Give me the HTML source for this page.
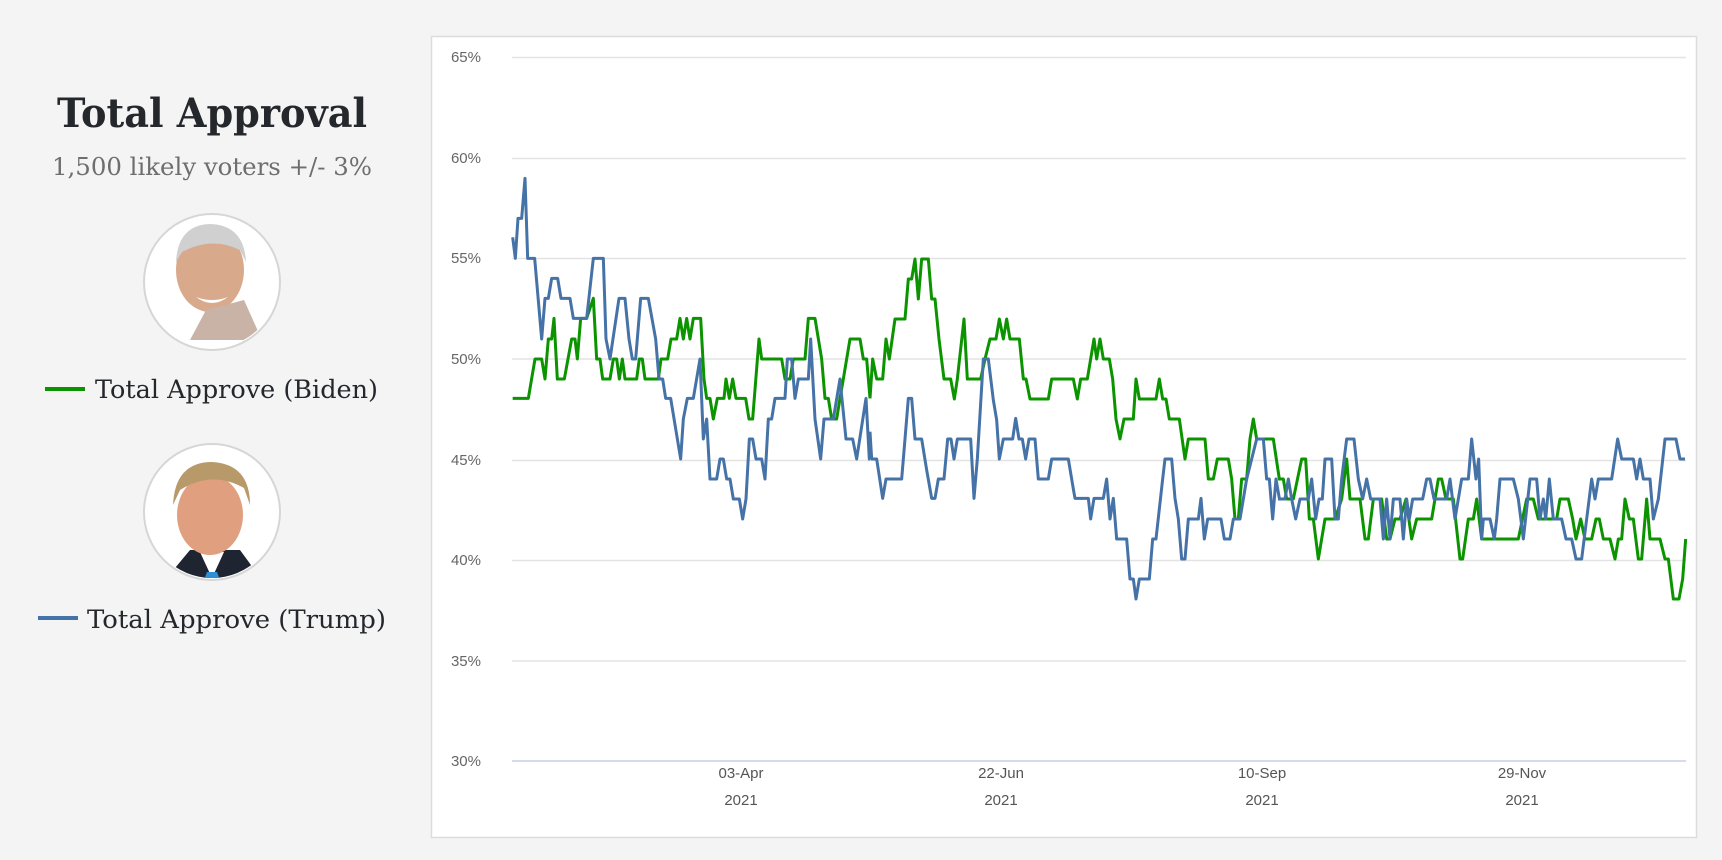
<!DOCTYPE html>
<html><head><meta charset="utf-8"><style>
html,body{margin:0;padding:0;background:#f4f4f4;}
svg{display:block;}
</style></head><body>
<svg width="1722" height="860" viewBox="0 0 1722 860" xmlns="http://www.w3.org/2000/svg">
<rect width="1722" height="860" fill="#f4f4f4"/>
<!-- left -->
<text x="212" y="127" text-anchor="middle" font-family="DejaVu Serif, Liberation Serif, serif" font-weight="bold" font-size="40" fill="#24272b" textLength="310" lengthAdjust="spacingAndGlyphs">Total Approval</text>
<text x="212" y="175" text-anchor="middle" font-family="DejaVu Serif, Liberation Serif, serif" font-size="24" fill="#6e6e6e" textLength="320" lengthAdjust="spacingAndGlyphs">1,500 likely voters +/- 3%</text>
<!-- Biden -->
<circle cx="212" cy="282" r="68" fill="#fff" stroke="#d6d6d6" stroke-width="2"/>
<clipPath id="c1"><circle cx="212" cy="282" r="66"/></clipPath>
<g clip-path="url(#c1)">
<ellipse cx="210" cy="270" rx="34" ry="42" fill="#d9a98c"/>
<path d="M176 262 Q178 225 210 224 Q244 225 246 262 L240 250 Q212 236 182 252Z" fill="#d0d0d0"/>
<path d="M196 297 Q212 309 228 297 Q212 303 196 297Z" fill="#fff"/>
<path d="M190 340 L206 310 L244 300 L262 340Z" fill="#c9b3a6"/>
</g>
<line x1="45" y1="389" x2="85" y2="389" stroke="#0b9400" stroke-width="4"/>
<text x="95" y="398" font-family="DejaVu Serif, Liberation Serif, serif" font-size="25" fill="#24272b" textLength="283" lengthAdjust="spacingAndGlyphs">Total Approve (Biden)</text>
<!-- Trump -->
<circle cx="212" cy="512" r="68" fill="#fff" stroke="#d6d6d6" stroke-width="2"/>
<clipPath id="c2"><circle cx="212" cy="512" r="66"/></clipPath>
<g clip-path="url(#c2)">
<path d="M165 580 L190 550 L240 550 L262 580Z" fill="#1f2530"/>
<path d="M200 552 L212 578 L224 552Z" fill="#fff"/>
<path d="M207 572 L217 572 L220 580 L204 580Z" fill="#2e8fd6"/>
<ellipse cx="210" cy="515" rx="33" ry="40" fill="#e0a080"/>
<path d="M173 505 Q175 462 212 462 Q250 464 250 505 L244 488 Q212 470 180 490Z" fill="#b89a6a"/>
</g>
<line x1="38" y1="618" x2="78" y2="618" stroke="#4572a7" stroke-width="4"/>
<text x="87" y="628" font-family="DejaVu Serif, Liberation Serif, serif" font-size="25" fill="#24272b" textLength="299" lengthAdjust="spacingAndGlyphs">Total Approve (Trump)</text>
<!-- panel -->
<rect x="431.5" y="36.5" width="1265" height="801" fill="#fff" stroke="#dcdcdc" stroke-width="1.5"/>
<g stroke="#e3e3e3" stroke-width="1.5">
<line x1="512" y1="57.5" x2="1686" y2="57.5"/>
<line x1="512" y1="158.5" x2="1686" y2="158.5"/>
<line x1="512" y1="258.5" x2="1686" y2="258.5"/>
<line x1="512" y1="359" x2="1686" y2="359"/>
<line x1="512" y1="460.5" x2="1686" y2="460.5"/>
<line x1="512" y1="560.5" x2="1686" y2="560.5"/>
<line x1="512" y1="661" x2="1686" y2="661"/>
</g>
<line x1="512" y1="761" x2="1686" y2="761" stroke="#c6d0e6" stroke-width="1.5"/>
<g font-family="Liberation Sans, sans-serif" font-size="15" fill="#666" text-anchor="end">
<text x="481" y="62">65%</text><text x="481" y="163">60%</text><text x="481" y="263">55%</text>
<text x="481" y="364">50%</text><text x="481" y="465">45%</text><text x="481" y="565">40%</text>
<text x="481" y="666">35%</text><text x="481" y="766">30%</text>
</g>
<g font-family="Liberation Sans, sans-serif" font-size="15" fill="#555" text-anchor="middle">
<text x="741" y="778">03-Apr</text><text x="741" y="805">2021</text>
<text x="1001" y="778">22-Jun</text><text x="1001" y="805">2021</text>
<text x="1262" y="778">10-Sep</text><text x="1262" y="805">2021</text>
<text x="1522" y="778">29-Nov</text><text x="1522" y="805">2021</text>
</g>
<g fill="none" stroke-width="3" stroke-linejoin="round">
<g transform="translate(430,150) scale(0.33333)">
<polyline vector-effect="non-scaling-stroke" stroke="#0b9400" points="248,745 295,745 315,627 335,627 345,687 355,567 365,567 372,505 382,687 403,687 425,567 435,567 442,627 452,505 470,505 490,445 500,627 510,627 518,687 540,687 550,627 560,627 568,687 577,627 585,687 620,687 628,627 637,627 645,687 685,687 693,627 713,627 723,567 740,567 750,505 760,567 770,505 780,567 790,505 812,505 822,687 830,745 840,745 850,807 862,745 882,745 888,687 898,745 908,687 918,745 947,745 957,807 968,807 987,567 995,627 1055,627 1065,687 1080,687 1090,627 1125,627 1135,505 1155,505 1175,627 1185,745 1195,745 1205,807 1220,807 1230,745 1240,687 1260,567 1290,567 1300,627 1310,627 1320,745"/>
<polyline vector-effect="non-scaling-stroke" stroke="#4572a7" points="248,262 256,325 264,205 275,205 285,85 293,325 314,325 335,567 345,445 355,445 365,385 383,385 393,445 420,445 430,505 470,505 490,325 520,325 528,567 540,627 567,445 585,445 597,567 607,627 617,627 632,445 655,445 677,567 687,687 698,687 707,745 722,745 752,927 760,807 772,745 790,745 810,627 820,867 830,807 840,987 860,987 870,927 880,927 890,987 900,987 910,1047 928,1047 938,1107 948,1047 958,867 968,867 978,927 995,927 1005,987 1015,807 1025,807 1035,745 1065,745 1072,627 1085,627 1095,745 1105,687 1135,687 1142,567 1155,807 1172,927 1182,807 1210,807 1230,687 1248,867 1268,867 1280,927 1308,745 1318,927 1320,927"/>
</g>
<g transform="translate(870,250) scale(0.33333)">
<polyline vector-effect="non-scaling-stroke" stroke="#0b9400" points="0,445 8,327 20,387 38,387 48,267 58,327 75,207 105,207 115,87 125,87 135,27 145,147 155,27 175,27 185,147 195,147 207,267 222,387 242,387 253,447 262,387 282,207 292,387 332,387 345,327 360,267 378,267 388,207 400,267 410,207 420,267 448,267 460,387 468,387 480,447 535,447 545,387 610,387 622,447 632,387 652,387 662,327 672,267 680,327 690,267 700,327 718,327 728,387 738,507 750,567 762,507 790,507 798,387 808,447 858,447 868,387 878,447 888,447 898,507 928,507 945,627 955,567 1005,567 1015,687 1030,687 1042,627 1075,627 1085,687 1095,807 1105,807 1115,687 1130,687 1140,567 1150,507 1160,567 1210,567 1228,687 1232,687"/>
<polyline vector-effect="non-scaling-stroke" stroke="#4572a7" points="0,545 5,627 20,627 38,745 48,687 95,687 105,567 115,445 125,445 135,567 155,567 170,660 185,745 195,745 205,687 222,687 233,567 243,567 252,627 262,567 302,567 312,745 322,627 340,327 355,327 370,450 380,510 388,627 400,567 428,567 437,505 447,567 457,567 467,627 477,567 495,567 505,687 535,687 545,627 595,627 610,717 615,745 655,745 662,807 672,745 700,745 710,687 720,807 730,745 740,867 770,867 780,987 790,987 798,1047 808,987 838,987 848,867 858,867 878,687 885,627 905,627 915,745 925,807 935,927 945,927 955,807 985,807 993,745 1003,867 1013,807 1053,807 1063,867 1080,867 1090,807 1110,807 1130,687 1145,627 1160,567 1180,567 1190,687 1198,687 1208,807 1218,687 1228,745 1232,745"/>
</g>
<g transform="translate(1280,380) scale(0.33333)">
<polyline vector-effect="non-scaling-stroke" stroke="#0b9400" points="-6,297 10,297 20,357 40,357 65,237 77,237 88,417 100,417 115,537 135,417 165,417 185,357 200,237 210,357 240,357 255,477 265,477 280,357 305,357 320,477 330,477 345,417 360,417 378,357 395,477 410,417 455,417 475,297 485,297 498,357 520,357 540,537 548,537 565,417 580,417 590,357 605,477 715,477 740,357 760,357 775,417 830,417 840,357 865,357 878,417 888,477 902,417 915,477 935,477 948,417 958,417 970,477 990,477 1005,537 1015,477 1025,477 1035,357 1048,417 1060,417 1075,537 1085,537 1100,357 1110,477 1140,477 1155,537 1165,537 1180,657 1197,657 1208,597 1217,477"/>
<polyline vector-effect="non-scaling-stroke" stroke="#4572a7" points="-6,357 15,357 25,297 35,357 47,417 60,357 85,357 95,297 107,417 117,357 127,357 135,237 155,237 165,417 175,417 185,297 200,177 222,177 235,297 248,357 260,297 272,357 300,357 310,477 320,357 330,477 340,357 360,357 370,477 380,357 388,417 398,357 428,357 440,297 450,297 462,357 500,357 510,297 525,417 545,297 565,297 575,177 588,297 596,237 605,477 610,417 630,417 643,477 650,417 660,297 700,297 715,357 730,477 750,297 770,297 780,417 790,357 797,417 808,297 820,417 845,417 858,477 875,477 888,537 905,537 920,417 935,297 945,357 955,297 995,297 1013,177 1025,237 1060,237 1070,297 1080,237 1090,297 1110,297 1120,417 1135,357 1155,177 1188,177 1200,237 1215,237"/>
</g>
</g>
</svg>
</body></html>
